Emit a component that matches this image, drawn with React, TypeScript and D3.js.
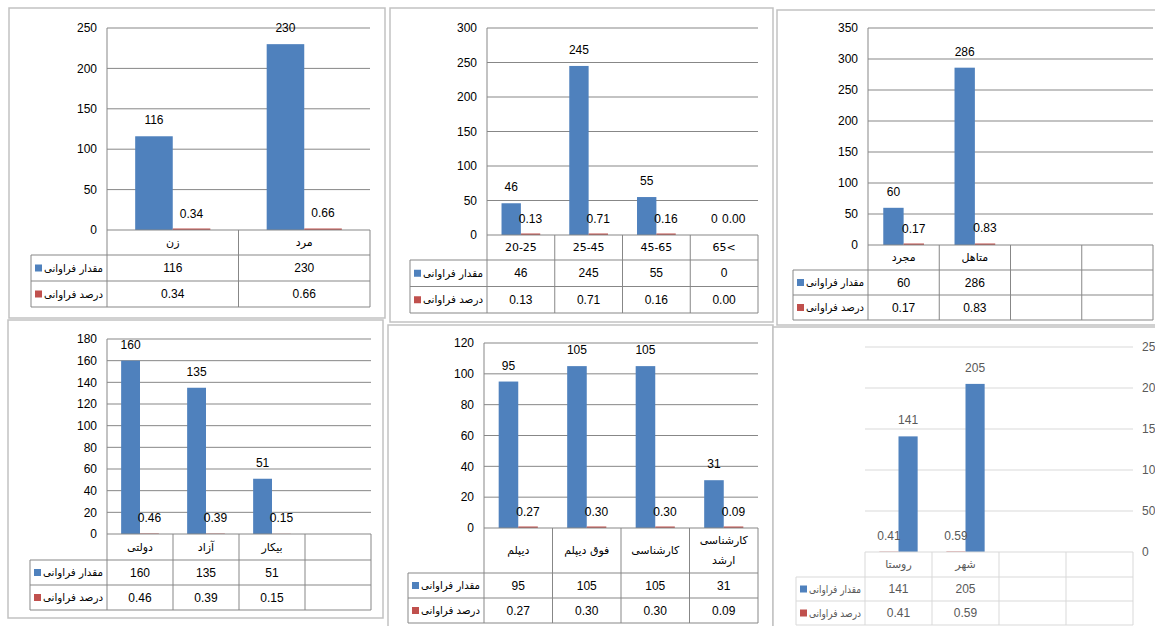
import React from 'react';
import * as d3 from 'd3';

// series names shown in the data tables
const seriesNames = ['مقدار فراوانی', 'درصد فراوانی'];

const genderCats = ['زن', 'مرد'];
const genderCount = [116, 230];
const genderPct = [0.34, 0.66];
const genderTicks = [0, 50, 100, 150, 200, 250];

const ageCats = ['20-25', '25-45', '45-65', '65<'];
const ageCount = [46, 245, 55, 0];
const agePct = [0.13, 0.71, 0.16, 0.0];
const ageTicks = [0, 50, 100, 150, 200, 250, 300];

const maritalCats = ['مجرد', 'متاهل', '', ''];
const maritalCount = [60, 286];
const maritalPct = [0.17, 0.83];
const maritalTicks = [0, 50, 100, 150, 200, 250, 300, 350];

const jobCats = ['دولتی', 'آزاد', 'بیکار', ''];
const jobCount = [160, 135, 51];
const jobPct = [0.46, 0.39, 0.15];
const jobTicks = [0, 20, 40, 60, 80, 100, 120, 140, 160, 180];

const eduCats = ['دیپلم', 'فوق دیپلم', 'کارشناسی', 'کارشناسی\nارشد'];
const eduCount = [95, 105, 105, 31];
const eduPct = [0.27, 0.3, 0.3, 0.09];
const eduTicks = [0, 20, 40, 60, 80, 100, 120];

const placeCats = ['روستا', 'شهر', '', ''];
const placeCount = [141, 205];
const placePct = [0.41, 0.59];
const placeTicks = [0, 50, 100, 150, 200, 250];

const BLUE = '#4f81bd';
const RED = '#c0504d';
const NUM_FONT = 'Liberation Sans, Arial, sans-serif';
const FA_FONT = 'DejaVu Sans, Noto Sans, sans-serif';
const pctFmt = d3.format('.2f');

type PanelProps = {
    frame: [number, number, number, number];
    x0: number;
    x1: number;
    yTop: number;
    y0: number;
    catRowH: number;
    rowH: number;
    tableLeft: number;
    cats: string[];
    counts: number[];
    pcts: number[];
    ticks: number[];
    redMin?: number;
    modern?: boolean;
};

const Panel: React.FC<PanelProps> = ({
    frame, x0, x1, yTop, y0, catRowH, rowH, tableLeft, cats, counts, pcts, ticks, redMin = 1.5, modern = false
}) => {
    const x = d3.scaleBand<number>().domain(d3.range(cats.length)).range([x0, x1]);
    const y = d3.scaleLinear().domain([0, ticks[ticks.length - 1]]).range([y0, yTop]);
    const bw = x.bandwidth() / 3.5;
    const grid = modern ? '#d9d9d9' : '#878787';
    const ink = modern ? '#595959' : '#000';

    const r1 = y0 + catRowH;
    const r2 = r1 + rowH;
    const r3 = r2 + rowH;

    // bar left edges; the right-hand chart has its series order swapped
    const blueX = (i: number) => x(i)! + x.bandwidth() / 2 - (modern ? 0 : bw);
    const redX = (i: number) => x(i)! + x.bandwidth() / 2 - (modern ? bw : 0);
    const barH = (v: number, minH: number) => (v > 0 ? Math.max(y(0) - y(v), minH) : 0);
    const legendW = (x0 - 4) - (tableLeft + 13);

    return (
        <g>
            <rect x={frame[0]} y={frame[1]} width={frame[2]} height={frame[3]}
                  fill="#fff" stroke="#c2c2c2" strokeWidth={1.5}/>

            {/* gridlines */}
            {ticks.filter(t => t > 0).map(t => (
                <line key={t} x1={x0} x2={x1} y1={y(t)} y2={y(t)} stroke={grid}/>
            ))}
            {!modern && <line x1={x0} x2={x0} y1={yTop} y2={y0} stroke={grid}/>}

            {/* y tick labels */}
            {ticks.map(t => (
                <text key={t} x={modern ? x1 + 9 : x0 - 10} y={y(t)} dy="0.35em"
                      textAnchor={modern ? 'start' : 'end'} fontSize={12}
                      fontFamily={NUM_FONT} fill={ink}>{t}</text>
            ))}

            {/* bars */}
            {counts.map((v, i) => (
                <rect key={'b' + i} x={blueX(i)} y={y0 - barH(v, 0)} width={bw}
                      height={barH(v, 0)} fill={BLUE}/>
            ))}
            {pcts.map((v, i) => (
                <rect key={'r' + i} x={redX(i)} y={y0 - barH(v, redMin)} width={bw}
                      height={barH(v, redMin)} fill={RED}/>
            ))}

            {/* value labels */}
            {counts.map((v, i) => (
                <text key={'lb' + i} x={blueX(i) + bw / 2} y={y(v) - 12} textAnchor="middle"
                      fontSize={12} fontFamily={NUM_FONT} fill={ink}>{v}</text>
            ))}
            {pcts.map((v, i) => (
                <text key={'lr' + i} x={redX(i) + bw / 2} y={y(v) - 12} textAnchor="middle"
                      fontSize={12} fontFamily={NUM_FONT} fill={ink}>{pctFmt(v)}</text>
            ))}

            {/* data table */}
            <g stroke={grid} fill="none">
                <line x1={x0} x2={x1} y1={y0} y2={y0}/>
                <line x1={tableLeft} x2={x1} y1={r1} y2={r1}/>
                <line x1={tableLeft} x2={x1} y1={r2} y2={r2}/>
                <line x1={tableLeft} x2={x1} y1={r3} y2={r3}/>
                <line x1={tableLeft} x2={tableLeft} y1={r1} y2={r3}/>
                {d3.range(cats.length + 1).map(i => {
                    const xx = i < cats.length ? x(i)! : x1;
                    return <line key={i} x1={xx} x2={xx} y1={y0} y2={r3}/>;
                })}
            </g>

            {cats.map((c, i) => {
                const lines = c.split('\n');
                const cy = y0 + catRowH / 2;
                return (
                    <text key={'c' + i} x={x(i)! + x.bandwidth() / 2} textAnchor="middle"
                          fontSize={11} fontFamily={FA_FONT} fill={ink}>
                        {lines.map((l, k) => (
                            <tspan key={k} x={x(i)! + x.bandwidth() / 2}
                                   y={cy + (k - (lines.length - 1) / 2) * 20} dy="0.35em">{l}</tspan>
                        ))}
                    </text>
                );
            })}

            {counts.map((v, i) => (
                <text key={'tc' + i} x={x(i)! + x.bandwidth() / 2} y={(r1 + r2) / 2} dy="0.35em"
                      textAnchor="middle" fontSize={12} fontFamily={NUM_FONT} fill={ink}>{v}</text>
            ))}
            {pcts.map((v, i) => (
                <text key={'tp' + i} x={x(i)! + x.bandwidth() / 2} y={(r2 + r3) / 2} dy="0.35em"
                      textAnchor="middle" fontSize={12} fontFamily={NUM_FONT} fill={ink}>{pctFmt(v)}</text>
            ))}

            {/* legend keys inside the table */}
            {[BLUE, RED].map((col, k) => {
                const cy = k === 0 ? (r1 + r2) / 2 : (r2 + r3) / 2;
                return (
                    <g key={'k' + k}>
                        <rect x={tableLeft + 4} y={cy - 3.5} width={7} height={7} fill={col}/>
                        <text x={x0 - 4} y={cy} dy="0.35em" textAnchor="end" fontSize={10.5}
                              textLength={legendW} lengthAdjust="spacingAndGlyphs"
                              fontFamily={FA_FONT} fill={ink}>{seriesNames[k]}</text>
                    </g>
                );
            })}
        </g>
    );
};

export default function App() {
    return (
        <svg width={1155} height={626} style={{position: 'absolute', left: 0, top: 0, background: '#fff'}}>
            <rect width={1155} height={626} fill="#fff"/>
            <Panel frame={[9, 8, 376, 310]} x0={107} x1={370} yTop={28} y0={230} catRowH={25} rowH={26}
                   tableLeft={31} cats={genderCats} counts={genderCount} pcts={genderPct} ticks={genderTicks}/>
            <Panel frame={[390, 8, 383, 314]} x0={487} x1={758} yTop={28} y0={235} catRowH={25} rowH={26.5}
                   tableLeft={410} cats={ageCats} counts={ageCount} pcts={agePct} ticks={ageTicks}/>
            <Panel frame={[777, 10, 390, 315]} x0={868} x1={1153} yTop={28} y0={245} catRowH={25} rowH={25}
                   tableLeft={793} cats={maritalCats} counts={maritalCount} pcts={maritalPct} ticks={maritalTicks}/>
            <Panel frame={[8, 320, 375, 298]} x0={107} x1={371} yTop={339} y0={534} catRowH={26} rowH={25}
                   tableLeft={30} cats={jobCats} counts={jobCount} pcts={jobPct} ticks={jobTicks} redMin={0}/>
            <Panel frame={[388, 325, 385, 310]} x0={484} x1={758} yTop={343} y0={528} catRowH={45} rowH={25}
                   tableLeft={408} cats={eduCats} counts={eduCount} pcts={eduPct} ticks={eduTicks}/>
            <Panel frame={[773, 327, 390, 310]} x0={865} x1={1133} yTop={347} y0={552} catRowH={25} rowH={24}
                   tableLeft={796} cats={placeCats} counts={placeCount} pcts={placePct} ticks={placeTicks}
                   redMin={0} modern/>
        </svg>
    );
}
